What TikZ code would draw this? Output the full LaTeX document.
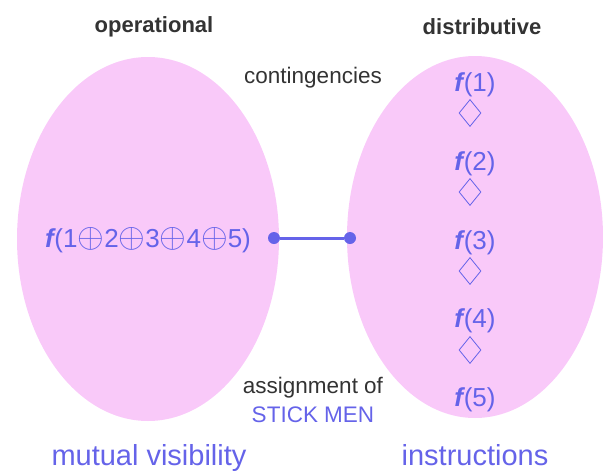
\documentclass[tikz,border=0pt]{standalone}
\usepackage{fontspec}
\setmainfont{Liberation Sans}
\usetikzlibrary{positioning,shapes.geometric}
\definecolor{blobpink}{HTML}{F9C9F9}
\definecolor{stickblue}{HTML}{6563E9}
\definecolor{headgray}{HTML}{333333}
\tikzset{
  blob/.style={ellipse,fill=blobpink,draw=none,inner sep=0pt},
  head/.style={font=\fontsize{22}{24}\selectfont\bfseries,text=headgray},
  note/.style={font=\fontsize{22.5}{24}\selectfont,text=headgray,inner sep=0pt},
  fterm/.style={font=\fontsize{26}{28}\selectfont,text=stickblue,inner sep=0pt},
  meet/.style={diamond,draw=stickblue,line width=0.8pt,inner sep=0pt,
               minimum width=22pt,minimum height=27pt},
  tip/.style={circle,fill=stickblue,inner sep=0pt,minimum size=12pt},
  link/.style={draw=stickblue,line width=3pt},
  big/.style={font=\fontsize{29}{31}\selectfont,text=stickblue,inner sep=0pt,
              anchor=base},
}
\newcommand{\fb}{\textbf{\textit{f}}\kern-1.5pt}
\newcommand{\op}{\raisebox{-0.5pt}{\scalebox{1.38}{$\oplus$}}}

\begin{document}
\begin{tikzpicture}[x=1pt,y=-1pt]
\useasboundingbox (0,0) rectangle (603,472);
  % the two views
  \node[blob,minimum width=262pt,minimum height=364pt] (oper) at (148,239) {};
  \node[blob,minimum width=256pt,minimum height=362pt] (dist) at (475,237) {};
  \node[head] (operT) at (154,27) {operational};
  \node[head] (distT) at (482,27) {distributive};
  \node[note] (cont) at (313,78) {contingencies};
  \node[fterm] (sum) at (148,240) {\fb(1\op2\op3\op4\op5)};
  % right column
  \foreach \i in {1,...,5}
    \node[fterm] (f\i) at (475,{85+78.75*(\i-1)}) {\fb(\i)};
  \foreach \i in {1,...,4}
    \node[meet] (m\i) at (470,{113+79*(\i-1)}) {};
  \node[tip] (l) at (274,238) {};
  \node[tip] (r) at (350,238) {};
  \draw[link] (l) -- (r);
  \node[note] (assign) at (313,388) {assignment of};
  \node[note,text=stickblue] (stick) at (313,415) {STICK MEN};
  \node[big] (vis) at (149,465) {mutual visibility};
  \node[big] (instr) at (475,465) {instructions};
\end{tikzpicture}
\end{document}
